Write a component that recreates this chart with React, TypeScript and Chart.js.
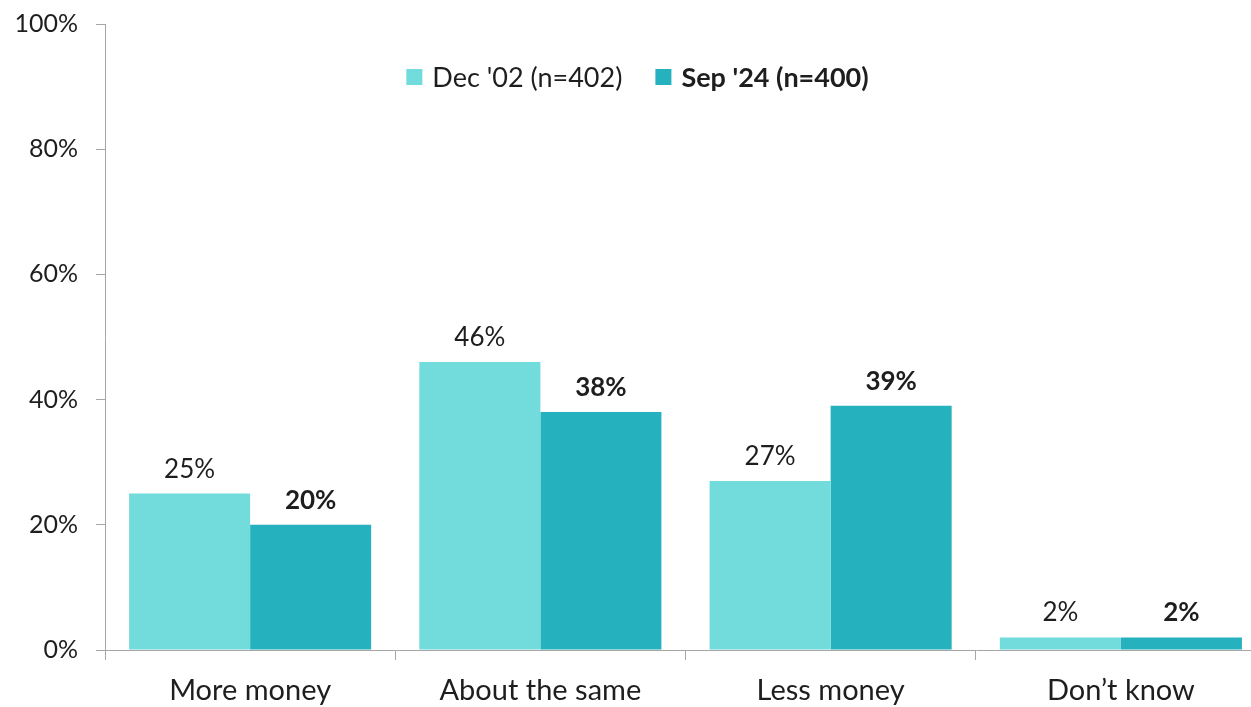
import React, { useEffect, useRef } from "react";
import Chart from "chart.js/auto";

const categories = ["More money", "About the same", "Less money", "Don\u2019t know"];
const seriesNames = ["Dec '02 (n=402)", "Sep '24 (n=400)"];
const dec02 = [25, 46, 27, 2];
const sep24 = [20, 38, 39, 2];
const yTicks = [0, 20, 40, 60, 80, 100];

const LIGHT = "#72DBDB";
const DARK = "#25B1BE";
const AXIS = "#A6A6A6";
const TEXT = "#1E1E1E";
const FONT = "Lato, 'Open Sans', sans-serif";

const valueLabels = {
  id: "valueLabels",
  afterDatasetsDraw(chart: any) {
    const ctx = chart.ctx;
    ctx.save();
    ctx.fillStyle = TEXT;
    ctx.textAlign = "center";
    ctx.textBaseline = "alphabetic";
    chart.data.datasets.forEach((ds: any, di: number) => {
      const meta = chart.getDatasetMeta(di);
      ctx.font = (di === 1 ? "bold " : "") + "26px " + FONT;
      meta.data.forEach((el: any, i: number) => {
        ctx.fillText(ds.data[i] + "%", el.x, el.y - 16);
      });
    });
    ctx.restore();
  },
};

const customLegend = {
  id: "customLegend",
  afterDraw(chart: any) {
    const ctx = chart.ctx;
    ctx.save();
    const box = 16;
    const gap = 10;
    const itemGap = 33;
    const fonts = ["27px " + FONT, "bold 27px " + FONT];
    const widths = chart.data.datasets.map((ds: any, i: number) => {
      ctx.font = fonts[i];
      return box + gap + ctx.measureText(ds.label).width;
    });
    const total = widths.reduce((a: number, b: number) => a + b, 0) + itemGap;
    let x = 637.5 - total / 2;
    const cy = 77;
    chart.data.datasets.forEach((ds: any, i: number) => {
      ctx.fillStyle = ds.backgroundColor;
      ctx.fillRect(x, cy - box / 2, box, box);
      ctx.font = fonts[i];
      ctx.fillStyle = TEXT;
      ctx.textAlign = "left";
      ctx.textBaseline = "middle";
      ctx.fillText(ds.label, x + box + gap, cy + 1);
      x += widths[i] + itemGap;
    });
    ctx.restore();
  },
};

export default function App() {
  const ref = useRef<HTMLCanvasElement | null>(null);
  useEffect(() => {
    if (!ref.current) return;
    const chart = new Chart(ref.current, {
      type: "bar",
      data: {
        labels: categories,
        datasets: [
          { label: seriesNames[0], data: dec02, backgroundColor: LIGHT, barPercentage: 1, categoryPercentage: 0.834 },
          { label: seriesNames[1], data: sep24, backgroundColor: DARK, barPercentage: 1, categoryPercentage: 0.834 },
        ],
      },
      options: {
        responsive: false,
        animation: false,
        devicePixelRatio: 1,
        layout: { padding: { top: 24, left: 0, right: 0, bottom: 0 } },
        plugins: {
          legend: { display: false },
          tooltip: { enabled: false },
          title: { display: false },
        },
        scales: {
          x: {
            grid: { display: true, drawOnChartArea: false, drawTicks: true, tickLength: 10, color: AXIS, offset: true },
            border: { display: true, color: AXIS },
            ticks: { color: TEXT, font: { family: FONT, size: 29 }, padding: 13 },
            afterFit(scale: any) {
              scale.height = 57;
              scale.paddingLeft = 0;
              scale.paddingRight = 0;
            },
          },
          y: {
            min: 0,
            max: 100,
            afterBuildTicks(scale: any) {
              scale.ticks = yTicks.map((v) => ({ value: v }));
            },
            grid: { display: true, drawOnChartArea: false, drawTicks: true, tickLength: 9, color: AXIS },
            border: { display: true, color: AXIS },
            ticks: {
              color: TEXT,
              font: { family: FONT, size: 25 },
              padding: 18,
              callback: (v: any) => v + "%",
            },
            afterFit(scale: any) {
              scale.width = 105;
              scale.paddingTop = 0;
              scale.paddingBottom = 0;
            },
          },
        },
      },
      plugins: [valueLabels, customLegend],
    });
    return () => chart.destroy();
  }, []);
  return (
    <div style={{ position: "fixed", left: 0, top: 0, width: 1251, height: 707, overflow: "hidden", background: "#fff" }}>
      <canvas ref={ref} width={1266} height={707} style={{ display: "block" }} />
    </div>
  );
}
